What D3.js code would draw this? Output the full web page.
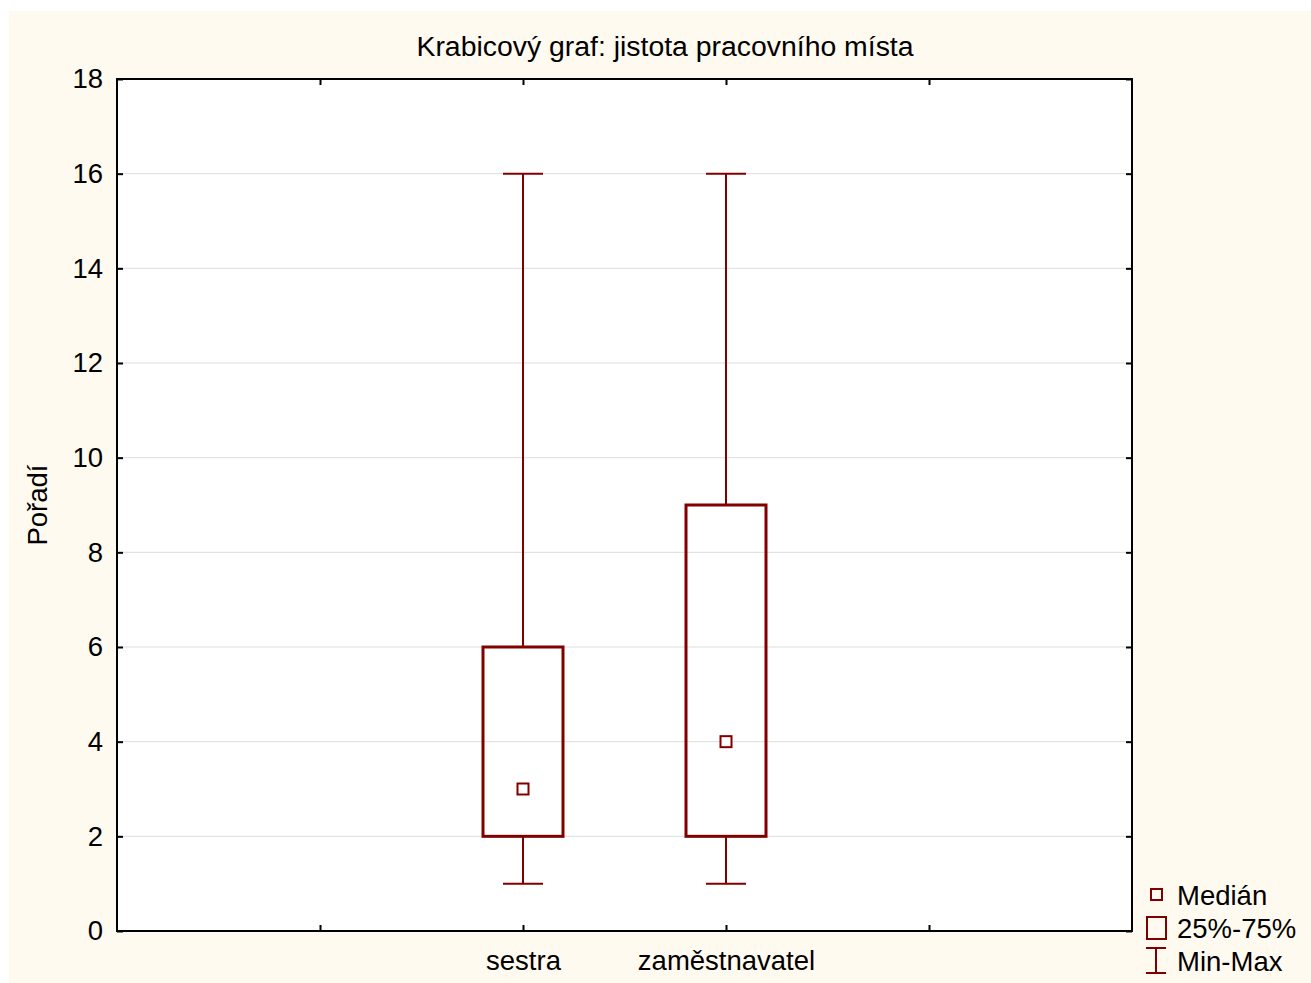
<!DOCTYPE html>
<html><head><meta charset="utf-8">
<script src="https://cdn.jsdelivr.net/npm/d3@7"></script>
<style>body{margin:0;background:#fff}svg{display:block;font-family:"Liberation Sans",Arial,sans-serif}</style>
</head><body><svg id="c" width="1311" height="983"></svg>
<script>
const categories = ["sestra", "zaměstnavatel"];
const slots = ["_a", "sestra", "zaměstnavatel", "_b"];
const minVals = [1, 1];
const q1Vals = [2, 2];
const medianVals = [3, 4];
const q3Vals = [6, 9];
const maxVals = [16, 16];
const yTicks = [0, 2, 4, 6, 8, 10, 12, 14, 16, 18];
const legendLabels = ["Medián", "25%-75%", "Min-Max"];
const title = "Krabicový graf: jistota pracovního místa";
const yLabel = "Pořadí";

const col = "#800000";
const FS = 27.5;
const svg = d3.select("#c");
svg.append("rect").attr("x", 9).attr("y", 11).attr("width", 1302).attr("height", 972).attr("fill", "#fffaf0");

const L = 117, R = 1132, T = 79, B = 931;
const x = d3.scalePoint().domain(slots).range([L, R]).padding(1);
const y = d3.scaleLinear().domain([0, 18]).range([B, T]);

svg.append("rect").attr("x", L).attr("y", T).attr("width", R - L).attr("height", B - T).attr("fill", "#fff");

// grid
svg.append("g").selectAll("line").data(yTicks.filter(t => t > 0 && t < 18)).join("line")
  .attr("x1", L).attr("x2", R).attr("y1", d => y(d)).attr("y2", d => y(d))
  .attr("stroke", "#dddddd").attr("stroke-width", 1);

// axes with inward ticks
const ax = (g) => g.call(s => s.select(".domain").remove()).selectAll("line").attr("stroke", "#000").attr("stroke-width", 2);
const yl = svg.append("g").attr("transform", `translate(${L},0)`)
  .call(d3.axisLeft(y).tickValues(yTicks).tickSize(-6).tickPadding(14).tickFormat(d3.format("d")));
yl.call(ax);
yl.selectAll("text").attr("font-size", FS).attr("fill", "#000").attr("font-family", "Liberation Sans, Arial, sans-serif");
const yr = svg.append("g").attr("transform", `translate(${R},0)`)
  .call(d3.axisRight(y).tickValues(yTicks).tickSize(-6).tickFormat(""));
yr.call(ax);
const xb = svg.append("g").attr("transform", `translate(0,${B})`)
  .call(d3.axisBottom(x).tickSize(-6).tickFormat(d => d.startsWith("_") ? "" : d));
xb.call(ax);
xb.selectAll("text").attr("font-size", FS).attr("fill", "#000").attr("font-family", "Liberation Sans, Arial, sans-serif").attr("y", 39).attr("dy", 0);
const xt = svg.append("g").attr("transform", `translate(0,${T})`)
  .call(d3.axisTop(x).tickSize(-6).tickFormat(""));
xt.call(ax);

// frame
svg.append("rect").attr("x", L).attr("y", T).attr("width", R - L).attr("height", B - T)
  .attr("fill", "none").attr("stroke", "#000").attr("stroke-width", 2);

// boxes
const data = categories.map((c, i) => ({c, min: minVals[i], q1: q1Vals[i], med: medianVals[i], q3: q3Vals[i], max: maxVals[i]}));
const bw = 80, cw = 40, mw = 11;
const g = svg.append("g");
data.forEach(d => {
  const cx = x(d.c);
  g.append("line").attr("x1", cx).attr("x2", cx).attr("y1", y(d.max)).attr("y2", y(d.q3)).attr("stroke", col).attr("stroke-width", 2);
  g.append("line").attr("x1", cx).attr("x2", cx).attr("y1", y(d.q1)).attr("y2", y(d.min)).attr("stroke", col).attr("stroke-width", 2);
  g.append("line").attr("x1", cx - cw / 2).attr("x2", cx + cw / 2).attr("y1", y(d.max)).attr("y2", y(d.max)).attr("stroke", col).attr("stroke-width", 2);
  g.append("line").attr("x1", cx - cw / 2).attr("x2", cx + cw / 2).attr("y1", y(d.min)).attr("y2", y(d.min)).attr("stroke", col).attr("stroke-width", 2);
  g.append("rect").attr("x", cx - bw / 2).attr("y", y(d.q3)).attr("width", bw).attr("height", y(d.q1) - y(d.q3))
    .attr("fill", "none").attr("stroke", col).attr("stroke-width", 3);
  g.append("rect").attr("x", cx - mw / 2).attr("y", y(d.med) - mw / 2).attr("width", mw).attr("height", mw)
    .attr("fill", "#fff").attr("stroke", col).attr("stroke-width", 2);
});

// title
svg.append("text").attr("x", 665).attr("y", 56).attr("text-anchor", "middle").attr("font-size", 28.4).attr("fill", "#000").text(title);
// y label
svg.append("text").attr("transform", "translate(47,505) rotate(-90)").attr("text-anchor", "middle").attr("font-size", FS).attr("fill", "#000").text(yLabel);

// legend
const lg = svg.append("g");
lg.append("rect").attr("x", 1151).attr("y", 889).attr("width", 11).attr("height", 11).attr("fill", "none").attr("stroke", col).attr("stroke-width", 2);
lg.append("rect").attr("x", 1147).attr("y", 917).attr("width", 19).attr("height", 22).attr("fill", "none").attr("stroke", col).attr("stroke-width", 2);
lg.append("line").attr("x1", 1146).attr("x2", 1166).attr("y1", 948).attr("y2", 948).attr("stroke", col).attr("stroke-width", 2);
lg.append("line").attr("x1", 1146).attr("x2", 1166).attr("y1", 973).attr("y2", 973).attr("stroke", col).attr("stroke-width", 2);
lg.append("line").attr("x1", 1156).attr("x2", 1156).attr("y1", 948).attr("y2", 973).attr("stroke", col).attr("stroke-width", 2);
lg.selectAll("text.l").data(legendLabels).join("text").attr("class", "l")
  .attr("x", 1177).attr("y", (d, i) => 905 + i * 33).attr("font-size", FS).attr("fill", "#000").text(d => d);
</script></body></html>
